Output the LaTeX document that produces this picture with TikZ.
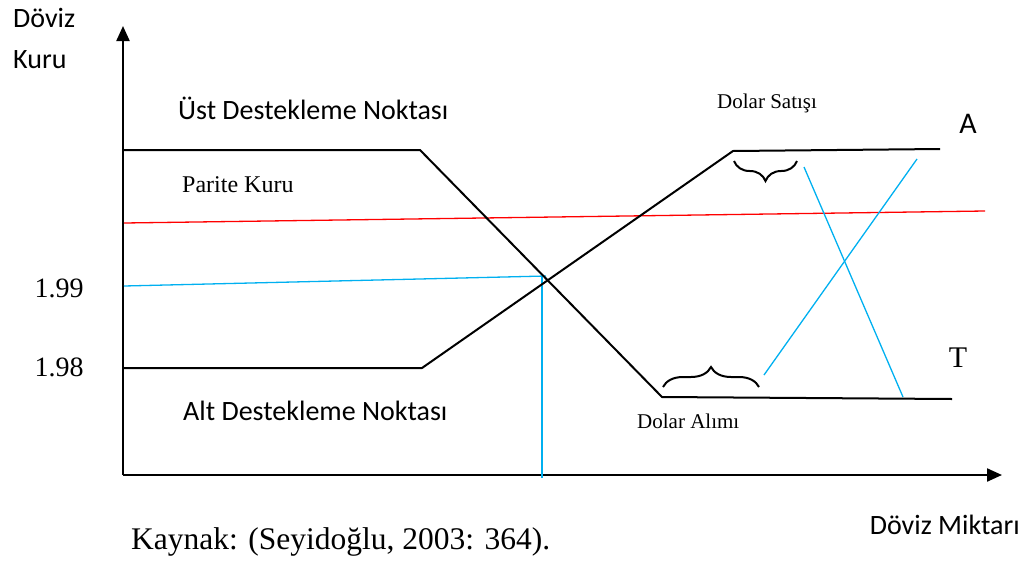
\documentclass[tikz,border=0pt]{standalone}
\usepackage{fontspec}
\setmainfont{Liberation Serif}
\newfontfamily\calib{Carlito}
\usetikzlibrary{decorations.pathreplacing,arrows.meta}
\definecolor{lblue}{RGB}{0,176,240}
\tikzset{
  sanslbl/.style={inner sep=0pt, font=\calib\fontsize{28}{32}\selectfont},
  seriflbl/.style={inner sep=0pt, font=\fontsize{24}{28}\selectfont},
  smallserif/.style={inner sep=0pt, font=\fontsize{21}{25}\selectfont},
  curve/.style={line width=2pt, line join=round},
  axis/.style={line width=2.2pt, -{Triangle[length=15pt,width=13pt]}},
  blueline/.style={lblue, line width=1.3pt},
  redline/.style={red, line width=1.3pt},
  bracestyle/.style={line width=2pt, decorate, decoration={brace, amplitude=#1}}
}
\begin{document}
\begin{tikzpicture}[x=1pt,y=-1pt]
\useasboundingbox (0,0) rectangle (1034,563);
% coordinates
\coordinate (O) at (123,475);
\coordinate (ytip) at (123,26);
\coordinate (xtip) at (1002,475);
\coordinate (u0) at (124,150);
\coordinate (u1) at (420,150);
\coordinate (u2) at (662,397);
\coordinate (u3) at (952,399);
\coordinate (l0) at (124,368);
\coordinate (l1) at (422,368);
\coordinate (l2) at (733,151);
\coordinate (l3) at (940,149);
\coordinate (r0) at (124,223);
\coordinate (r1) at (985,211);
\coordinate (b0) at (124,286);
\coordinate (b1) at (546,276);
\coordinate (b2) at (542,276);
\coordinate (b3) at (542,478);
\coordinate (s0) at (764,375);
\coordinate (s1) at (917,159);
\coordinate (d0) at (804,167);
\coordinate (d1) at (903,397);
\coordinate (ub0) at (734,161);
\coordinate (ub1) at (797,161);
\coordinate (lb0) at (663,387);
\coordinate (lb1) at (759,387);
% axes
\draw[axis] (O) -- (ytip);
\draw[axis] (O) -- (xtip);
% lines
\draw[redline] (r0) -- (r1);
\draw[blueline] (b0) -- (b1);
\draw[blueline] (b2) -- (b3);
\draw[blueline] (s0) -- (s1);
\draw[blueline] (d0) -- (d1);
\draw[curve] (u0) -- (u1) -- (u2) -- (u3);
\draw[curve] (l0) -- (l1) -- (l2) -- (l3);
% braces
\draw[bracestyle=20pt] (ub1) -- (ub0);
\draw[bracestyle=20pt] (lb0) -- (lb1);
% labels
\node[sanslbl, anchor=west] (dk1) at (13,18) {Döviz};
\node[sanslbl, anchor=west] (dk2) at (13,60) {Kuru};
\node[sanslbl, anchor=west] (ust) at (178,108) {Üst Destekleme Noktası};
\node[seriflbl, anchor=west] (par) at (182,185) {Parite Kuru};
\node[seriflbl, font=\fontsize{28}{32}\selectfont, anchor=center] (n199) at (59,288) {1.99};
\node[seriflbl, font=\fontsize{28}{32}\selectfont, anchor=center] (n198) at (59,367) {1.98};
\node[sanslbl, anchor=west] (alt) at (183,411) {Alt Destekleme Noktası};
\node[smallserif, anchor=west] (sat) at (717,103) {Dolar Satışı};
\node[smallserif, anchor=west] (alim) at (637,421) {Dolar Alımı};
\node[sanslbl, font=\calib\fontsize{30}{34}\selectfont, anchor=center] (A) at (968,124) {A};
\node[seriflbl, font=\fontsize{30}{34}\selectfont, anchor=center] (T) at (958,358) {T};
\node[seriflbl, font=\fontsize{31.5}{36}\selectfont, anchor=west] (kay) at (131,542) {Kaynak: (Seyidoğlu, 2003: 364).};
\node[sanslbl, anchor=east] (dm) at (1020,525) {Döviz Miktarı};
\end{tikzpicture}
\end{document}
